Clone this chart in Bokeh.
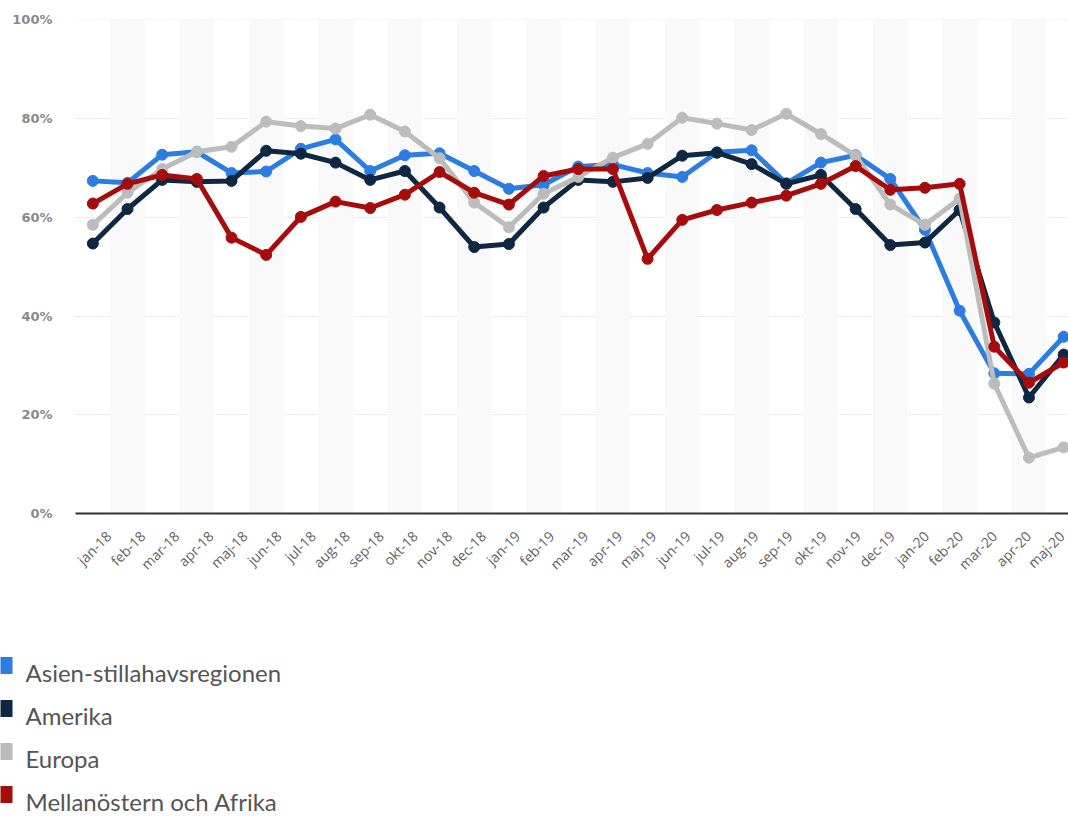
import math
from bokeh.plotting import figure
from bokeh.layouts import column
from bokeh.models import Range1d, FixedTicker, CustomJSTickFormatter
from bokeh.core.properties import value
from bokeh.embed import file_html
from bokeh.resources import INLINE

months = ["jan-18", "feb-18", "mar-18", "apr-18", "maj-18", "jun-18", "jul-18", "aug-18",
          "sep-18", "okt-18", "nov-18", "dec-18", "jan-19", "feb-19", "mar-19", "apr-19",
          "maj-19", "jun-19", "jul-19", "aug-19", "sep-19", "okt-19", "nov-19", "dec-19",
          "jan-20", "feb-20", "mar-20", "apr-20", "maj-20"]

asia = [67.4, 67.0, 72.7, 73.3, 69.0, 69.3, 73.9, 75.8, 69.4, 72.6, 73.0, 69.4, 65.8, 66.6,
        70.3, 70.7, 69.0, 68.2, 73.2, 73.6, 66.9, 71.1, 72.6, 67.8, 57.5, 41.1, 28.4, 28.3, 35.8]
amerika = [54.7, 61.7, 67.6, 67.2, 67.4, 73.5, 72.9, 71.1, 67.6, 69.4, 62.0, 54.0, 54.6, 62.0,
           67.6, 67.2, 68.0, 72.5, 73.1, 70.8, 66.8, 68.6, 61.7, 54.4, 54.9, 61.5, 38.7, 23.5, 32.2]
europa = [58.5, 65.0, 69.8, 73.3, 74.3, 79.4, 78.5, 78.0, 80.8, 77.4, 72.0, 63.0, 58.0, 64.8,
          68.2, 72.1, 74.9, 80.2, 79.0, 77.7, 81.0, 76.9, 72.5, 62.6, 58.5, 63.8, 26.3, 11.3, 13.4]
mena = [62.8, 66.8, 68.6, 67.8, 55.9, 52.4, 60.1, 63.2, 61.9, 64.6, 69.2, 65.0, 62.6, 68.4,
        69.8, 69.8, 51.6, 59.5, 61.5, 63.0, 64.4, 66.8, 70.4, 65.6, 66.0, 66.8, 33.8, 26.5, 30.6]

series_names = ["Asien-stillahavsregionen", "Amerika", "Europa", "Mellanöstern och Afrika"]
series_values = [asia, amerika, europa, mena]
series_colors = ["#2b7de1", "#0f2740", "#bcbcbc", "#a50d0d"]

y_ticks = [0, 20, 40, 60, 80, 100]

W = 1068
MAIN_H = 600
n = len(months)
xs = list(range(n))

FRAME_L, FRAME_T, FRAME_H = 75, 19, 494
X0, X1 = -0.5, 28.14
px_per_unit = (W - FRAME_L) / (X1 - X0)

p = figure(width=W, height=MAIN_H, output_backend="svg", toolbar_location=None,
           x_range=Range1d(X0, X1), y_range=Range1d(0, 100.1),
           min_border_left=FRAME_L, min_border_top=FRAME_T, min_border_right=0,
           min_border_bottom=MAIN_H - FRAME_T - FRAME_H)
p.frame_align = False
p.outline_line_color = None
p.background_fill_color = "white"
p.border_fill_color = "white"

# alternating bands
odd = [i for i in xs if i % 2 == 1]
p.vbar(x=odd, width=1, bottom=0, top=100, color="#f9f9f9", line_color=None)

for vals, col in zip(series_values, series_colors):
    p.line(xs, vals, line_color=col, line_width=5, line_join="round")
    p.scatter(xs, vals, size=11, fill_color=col, line_color=col)

# x axis labels sit on their own (slightly tighter) spacing, as in the reference
lab_px0, lab_step = 108.0, 34.07
tick_pos = [((lab_px0 + i * lab_step) - FRAME_L) / px_per_unit + X0 for i in xs]
p.xaxis.ticker = FixedTicker(ticks=tick_pos)
p.xaxis.formatter = CustomJSTickFormatter(
    args=dict(labels=months, pos=tick_pos),
    code="""
let best = 0, bd = 1e9;
for (let j = 0; j < pos.length; j++) { const d = Math.abs(pos[j] - tick); if (d < bd) { bd = d; best = j; } }
return labels[best];
""")
p.xaxis.major_label_orientation = math.pi / 4
p.xaxis.major_label_text_font = "Open Sans"
p.xaxis.major_label_text_font_size = "14px"
p.xaxis.major_label_text_color = "#5f5f5f"
p.xaxis.major_tick_line_color = None
p.xaxis.minor_tick_line_color = None
p.xaxis.axis_line_color = "#333333"
p.xaxis.axis_line_width = 2
p.xaxis.major_label_standoff = 14

p.yaxis.ticker = FixedTicker(ticks=y_ticks)
p.yaxis.formatter = CustomJSTickFormatter(code="return tick + '%';")
p.yaxis.major_label_text_font = "DejaVu Sans"
p.yaxis.major_label_text_font_style = "bold"
p.yaxis.major_label_text_font_size = "13px"
p.yaxis.major_label_text_color = "#8a8a8a"
p.yaxis.axis_line_color = None
p.yaxis.major_tick_line_color = None
p.yaxis.minor_tick_line_color = None
p.yaxis.major_tick_out = 0
p.yaxis.major_tick_in = 0
p.yaxis.major_label_standoff = 23

p.xgrid.grid_line_color = None
p.ygrid.ticker = FixedTicker(ticks=y_ticks)
p.ygrid.grid_line_color = "#c8c8c8"
p.ygrid.grid_line_dash = "1 2"
p.ygrid.grid_line_width = 1

# legend figure
LH = 816 - MAIN_H
lg = figure(width=W, height=LH, output_backend="svg", toolbar_location=None,
            x_range=Range1d(0, W), y_range=Range1d(LH, 0),
            min_border=0, outline_line_color=None)
lg.frame_align = False
lg.axis.visible = False
lg.grid.visible = False
mid0, step = 65.0, 43.0
mids = [mid0 + i * step for i in range(len(series_names))]
lg.rect(x=[4] * 4, y=mids, width=16, height=17,
        fill_color=series_colors, line_color=None)
lg.text(x=[25] * 4, y=[m + 7 for m in mids], text=series_names, text_baseline="middle",
        text_font=value("Lato"), text_font_size="24px", text_color="#555555")

layout = column(p, lg, spacing=0)
open("out.html", "w").write(file_html(layout, INLINE))
